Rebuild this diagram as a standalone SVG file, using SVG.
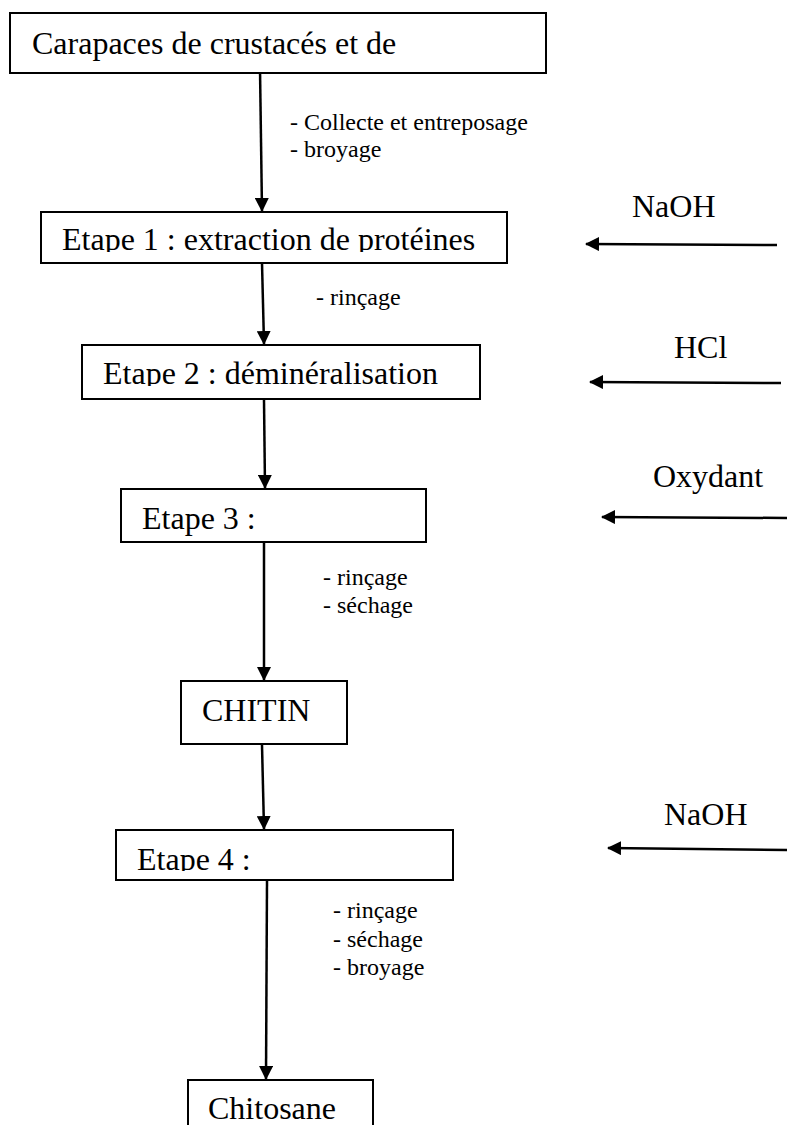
<svg xmlns="http://www.w3.org/2000/svg" width="787" height="1125" viewBox="0 0 787 1125">
<style>
.box{fill:#fff;stroke:#000;stroke-width:2}
.t{font-family:"Liberation Serif","Times New Roman",serif;font-size:32px;fill:#000}
.lbl{font-family:"Liberation Serif","Times New Roman",serif;font-size:24px;fill:#000}
.c{fill:none;stroke:#000;stroke-width:2.5}
</style>
<defs>
<marker id="ah" viewBox="0 0 14 14" refX="13" refY="7" markerWidth="14" markerHeight="14" markerUnits="userSpaceOnUse" orient="auto">
<path d="M0,0 L14,7 L0,14 z" fill="#000"/>
</marker>
<clipPath id="c2"><rect x="41" y="212" width="466" height="40"/></clipPath>
<clipPath id="c3"><rect x="82" y="345" width="398" height="41"/></clipPath>
<clipPath id="c6"><rect x="116" y="830" width="337" height="41"/></clipPath>
</defs>
<rect width="787" height="1125" fill="#fff"/>
<g id="connectors">
<path class="c" d="M260,69 L262,211" marker-end="url(#ah)"/>
<path class="c" d="M262,263 L264,344" marker-end="url(#ah)"/>
<path class="c" d="M264,400 L265,488" marker-end="url(#ah)"/>
<path class="c" d="M264,543 L264,680" marker-end="url(#ah)"/>
<path class="c" d="M262,745 L264,829" marker-end="url(#ah)"/>
<path class="c" d="M267,881 L266,1079" marker-end="url(#ah)"/>
<path class="c" d="M777,245 L586,244" marker-end="url(#ah)"/>
<path class="c" d="M781,383 L590,382" marker-end="url(#ah)"/>
<path class="c" d="M787,518 L602,517" marker-end="url(#ah)"/>
<path class="c" d="M787,850 L608,848" marker-end="url(#ah)"/>
</g>
<g id="labels">
<text class="lbl" x="290" y="130">- Collecte et entreposage</text>
<text class="lbl" x="290" y="157">- broyage</text>
<text class="lbl" x="316" y="305">- rinçage</text>
<text class="lbl" x="323" y="585">- rinçage</text>
<text class="lbl" x="323" y="613">- séchage</text>
<text class="lbl" x="333" y="918">- rinçage</text>
<text class="lbl" x="333" y="947">- séchage</text>
<text class="lbl" x="333" y="975">- broyage</text>
<text class="t" x="632" y="217">NaOH</text>
<text class="t" x="674" y="358">HCl</text>
<text class="t" x="653" y="487">Oxydant</text>
<text class="t" x="664" y="825">NaOH</text>
</g>
<g id="n1">
<rect class="box" x="10" y="13" width="536" height="60"/>
<text class="t" x="32" y="54">Carapaces de crustacés et de</text>
</g>
<g id="n2">
<rect class="box" x="41" y="212" width="466" height="51"/>
<text class="t" x="62" y="250" clip-path="url(#c2)">Etape 1 : extraction de protéines</text>
</g>
<g id="n3">
<rect class="box" x="82" y="345" width="398" height="54"/>
<text class="t" x="103" y="384" clip-path="url(#c3)">Etape 2 : déminéralisation</text>
</g>
<g id="n4">
<rect class="box" x="121" y="489" width="305" height="53"/>
<text class="t" x="142" y="529">Etape 3 :</text>
</g>
<g id="n5">
<rect class="box" x="181" y="681" width="166" height="63"/>
<text class="t" x="202" y="721">CHITIN</text>
</g>
<g id="n6">
<rect class="box" x="116" y="830" width="337" height="50"/>
<text class="t" x="137" y="870" clip-path="url(#c6)">Etape 4 :</text>
</g>
<g id="n7">
<rect class="box" x="188" y="1080" width="185" height="60"/>
<text class="t" x="208" y="1119">Chitosane</text>
</g>
</svg>
